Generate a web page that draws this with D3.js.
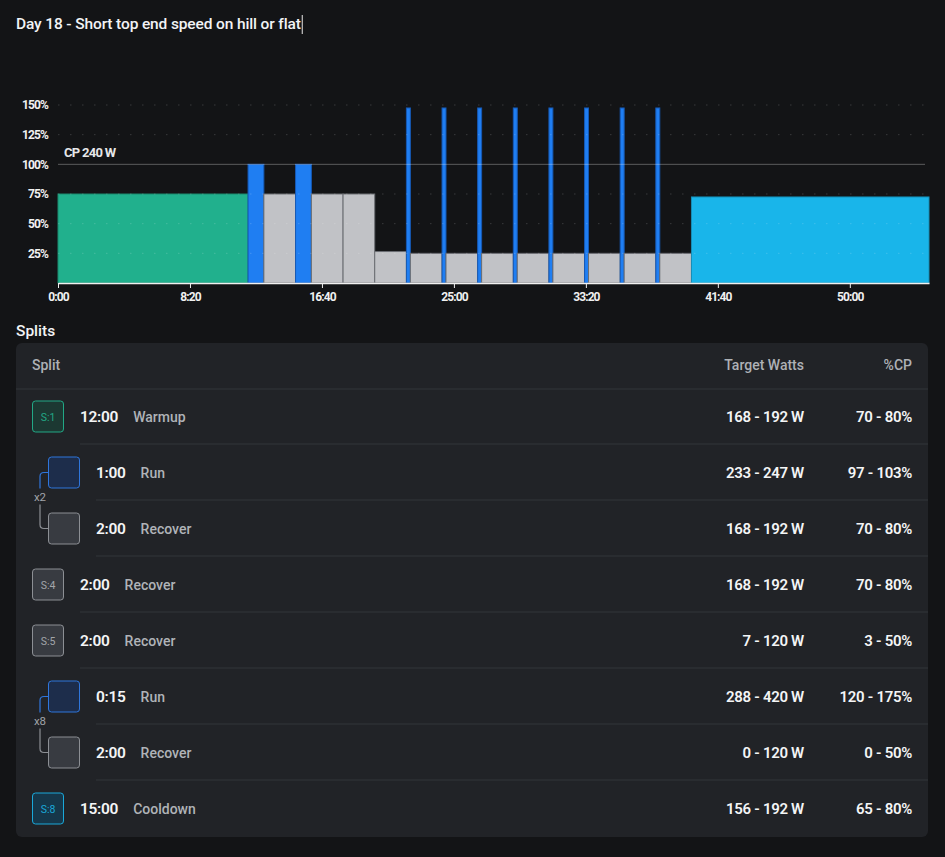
<!DOCTYPE html>
<html lang='en'>
<head>
	<meta charset='UTF-8'>
	<title>Day 18</title>
	<style>
		body { margin: 0; background: #131416; }
		svg { display: block; font-family: Roboto, 'Noto Sans', sans-serif; }
	</style>
</head>
<body>

<svg></svg>

<script src='https://d3js.org/d3.v7.min.js'></script>
<script>
const title = "Day 18 - Short top end speed on hill or flat"
const cpWatts = 240

// split table rows
const splitIds = ["S:1", "", "", "S:4", "S:5", "", "", "S:8"]
const splitKinds = ["warmup", "run", "recover", "recover", "recover", "run", "recover", "cooldown"]
const splitNames = ["Warmup", "Run", "Recover", "Recover", "Recover", "Run", "Recover", "Cooldown"]
const splitDurations = ["12:00", "1:00", "2:00", "2:00", "2:00", "0:15", "2:00", "15:00"]
const splitSeconds = [720, 60, 120, 120, 120, 15, 120, 900]
const wattLow = [168, 233, 168, 168, 7, 288, 0, 156]
const wattHigh = [192, 247, 192, 192, 120, 420, 120, 192]
const pctLow = [70, 97, 70, 70, 3, 120, 0, 65]
const pctHigh = [80, 103, 80, 80, 50, 175, 50, 80]

// repeat groups: first row index, row count, times
const repeatStart = [1, 5]
const repeatRows = [2, 2]
const repeatTimes = [2, 8]

const timeTicks = [0, 500, 1000, 1500, 2000, 2500, 3000]
const pctTicks = [25, 50, 75, 100, 125, 150]

const colors = {
    warmup: { fill: "#21b08d", stroke: "#1a8a6e", box: "#1c3832", text: "#22a886", edge: "#22a886" },
    run: { fill: "#1f7ef2", stroke: "#1659b5", box: "#1d2d4b", text: "#2f76dc", edge: "#2f76dc" },
    recover: { fill: "#c1c2c6", stroke: "#6c6e73", box: "#383b41", text: "#a2a5aa", edge: "#8c8f94" },
    cooldown: { fill: "#19b5ea", stroke: "#168fb8", box: "#16374a", text: "#1aa8d9", edge: "#1aa8d9" }
}

const width = 945
const height = 857

// expand repeats into a timeline
const segments = []
let t = 0
let i = 0
while (i < splitSeconds.length) {
    const g = repeatStart.indexOf(i)
    const rows = g >= 0 ? d3.range(i, i + repeatRows[g]) : [i]
    const times = g >= 0 ? repeatTimes[g] : 1
    for (let k = 0; k < times; k++) {
        rows.forEach(r => {
            segments.push({ row: r, start: t, end: t + splitSeconds[r], pct: (pctLow[r] + pctHigh[r]) / 2 })
            t += splitSeconds[r]
        })
    }
    i += rows.length
}
const total = t

const svg = d3.select('svg')
    .attr('width', width)
    .attr('height', height)

const titleText = svg.append("text")
    .attr("x", 16).attr("y", 29)
    .attr("fill", "#f2f3f5")
    .attr("font-size", 15.5).attr("font-weight", 500)
    .attr("letter-spacing", -0.13)
    .text(title)
const cursorX = 16 + titleText.node().getComputedTextLength() + 1.5
svg.append("line")
    .attr("x1", cursorX).attr("x2", cursorX).attr("y1", 15).attr("y2", 34)
    .attr("stroke", "#e8e8e8").attr("stroke-width", 1)

// chart
const x = d3.scaleLinear().domain([0, total]).range([58, 929])
const y = d3.scaleLinear().domain([0, 150]).range([283, 105])

const fmt = s => `${Math.floor(s / 60)}:${String(s % 60).padStart(2, "0")}`

svg.append("g").selectAll("rect")
    .data(segments)
    .join("rect")
    .attr("x", d => x(d.start))
    .attr("y", d => y(d.pct))
    .attr("width", d => x(d.end) - x(d.start))
    .attr("height", d => y(0) - y(d.pct))
    .attr("fill", d => colors[splitKinds[d.row]].fill)
    .attr("stroke", d => colors[splitKinds[d.row]].stroke)
    .attr("stroke-width", 1)

const grid = svg.append("g")
grid.selectAll("line")
    .data(pctTicks.filter(p => p !== 100))
    .join("line")
    .attr("x1", 58).attr("x2", 925)
    .attr("y1", d => y(d)).attr("y2", d => y(d))
    .attr("stroke", "rgba(255,255,255,0.16)")
    .attr("stroke-dasharray", "1.5,10.5")
grid.append("line")
    .attr("x1", 58).attr("x2", 925)
    .attr("y1", y(100)).attr("y2", y(100))
    .attr("stroke", "rgba(255,255,255,0.3)")
svg.append("text")
    .attr("x", 64).attr("y", y(100) - 7)
    .attr("fill", "#e6e7e9")
    .attr("font-size", 13).attr("font-weight", 700)
    .attr("letter-spacing", -0.7)
    .text(`CP ${cpWatts} W`)

const xAxis = svg.append("g")
    .attr("transform", `translate(0,${y(0)})`)
    .call(d3.axisBottom(x).tickValues(timeTicks).tickFormat(fmt).tickSize(5).tickSizeOuter(0))
xAxis.select(".domain").attr("stroke", "#f0f0f0").attr("stroke-width", 1.5)
xAxis.selectAll(".tick line").attr("stroke", "#f0f0f0")
xAxis.selectAll(".tick text")
    .attr("fill", "#f0f0f0").attr("font-size", 12).attr("font-weight", 700)
    .attr("font-family", "Roboto").attr("letter-spacing", -0.9).attr("dy", "0.85em")

const yAxis = svg.append("g")
    .attr("transform", "translate(48,0)")
    .call(d3.axisLeft(y).tickValues(pctTicks).tickFormat(d => d + "%").tickSize(0))
yAxis.select(".domain").remove()
yAxis.selectAll(".tick text")
    .attr("fill", "#f0f0f0").attr("font-size", 12).attr("font-weight", 700)
    .attr("font-family", "Roboto").attr("letter-spacing", -0.9).attr("x", 0)

// splits table
svg.append("text")
    .attr("x", 16).attr("y", 336)
    .attr("fill", "#f2f3f5")
    .attr("font-size", 15.5).attr("font-weight", 500)
    .text("Splits")

const table = svg.append("g")
table.append("rect")
    .attr("x", 16).attr("y", 343).attr("width", 912).attr("height", 494)
    .attr("rx", 6).attr("fill", "#212327")

const head = table.append("g").attr("fill", "#aeb1b6").attr("font-size", 14).attr("font-weight", 500)
head.append("text").attr("x", 32).attr("y", 370).text("Split")
head.append("text").attr("x", 804).attr("y", 370).attr("text-anchor", "end").text("Target Watts")
head.append("text").attr("x", 912).attr("y", 370).attr("text-anchor", "end").text("%CP")
table.append("line")
    .attr("x1", 16).attr("x2", 928).attr("y1", 389).attr("y2", 389)
    .attr("stroke", "#33363b")

const inGroup = r => repeatStart.some((s, g) => r >= s && r < s + repeatRows[g])
const rowY = r => 416 + r * 56

const rows = table.selectAll("g.row")
    .data(d3.range(splitIds.length))
    .join("g")
    .attr("class", "row")
    .attr("transform", r => `translate(0,${rowY(r)})`)

rows.append("rect")
    .attr("x", r => inGroup(r) ? 48.5 : 32.5)
    .attr("y", -15)
    .attr("width", 31).attr("height", 31).attr("rx", 3)
    .attr("fill", r => colors[splitKinds[r]].box)
    .attr("stroke", r => colors[splitKinds[r]].edge)

rows.append("text")
    .attr("x", 48).attr("y", 5)
    .attr("text-anchor", "middle")
    .attr("font-size", 10.5)
    .attr("fill", r => colors[splitKinds[r]].text)
    .text(r => splitIds[r])

const label = rows.append("text")
    .attr("x", r => inGroup(r) ? 96 : 80)
    .attr("y", 6)
label.append("tspan")
    .attr("fill", "#f4f5f6").attr("font-size", 15.5).attr("font-weight", 600)
    .attr("letter-spacing", -0.3)
    .text(r => splitDurations[r])
label.append("tspan")
    .attr("dx", 15)
    .attr("fill", "#b0b3b8").attr("font-size", 14).attr("font-weight", 500)
    .text(r => splitNames[r])

rows.append("text")
    .attr("x", 804).attr("y", 6).attr("text-anchor", "end")
    .attr("fill", "#f4f5f6").attr("font-size", 15).attr("font-weight", 600)
    .attr("letter-spacing", -0.3)
    .text(r => `${wattLow[r]} - ${wattHigh[r]} W`)
rows.append("text")
    .attr("x", 912).attr("y", 6).attr("text-anchor", "end")
    .attr("fill", "#f4f5f6").attr("font-size", 15).attr("font-weight", 600)
    .attr("letter-spacing", -0.3)
    .text(r => `${pctLow[r]} - ${pctHigh[r]}%`)

rows.filter(r => r < splitIds.length - 1).append("line")
    .attr("x1", r => inGroup(r) ? 96 : 80).attr("x2", 928)
    .attr("y1", 28).attr("y2", 28)
    .attr("stroke", "#33363b")

// repeat brackets
repeatStart.forEach((s, g) => {
    const y0 = rowY(s) + 0.5
    const y1 = rowY(s + repeatRows[g] - 1) + 0.5
    const mid = (y0 + y1) / 2 - 4
    table.append("path")
        .attr("d", `M48,${y0} H44 Q40,${y0} 40,${y0 + 4} V${mid - 8}`)
        .attr("fill", "none").attr("stroke", colors.run.edge).attr("stroke-width", 1.2)
    table.append("path")
        .attr("d", `M40,${mid + 8} V${y1 - 4} Q40,${y1} 44,${y1} H48`)
        .attr("fill", "none").attr("stroke", "#8c8f94").attr("stroke-width", 1.2)
    table.append("text")
        .attr("x", 40).attr("y", mid + 4)
        .attr("text-anchor", "middle")
        .attr("font-size", 11.5).attr("fill", "#a2a5aa")
        .text("x" + repeatTimes[g])
})
</script>
</body>
</html>
